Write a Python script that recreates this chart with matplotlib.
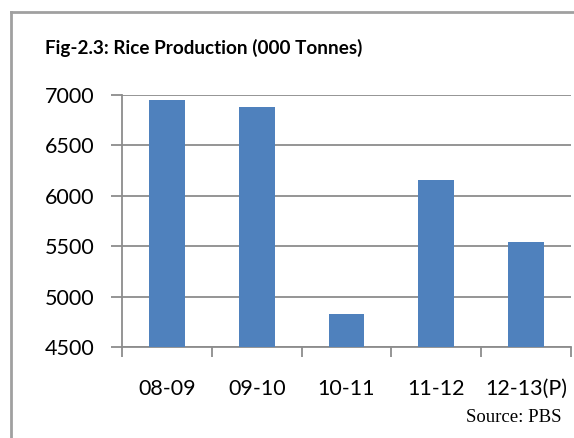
import matplotlib
matplotlib.use('Agg')
import matplotlib.pyplot as plt
from matplotlib.lines import Line2D

# Rice production, thousand tonnes
years = ['08-09', '09-10', '10-11', '11-12', '12-13(P)']
production = [6952, 6883, 4823, 6160, 5541]
y_ticks = [4500, 5000, 5500, 6000, 6500, 7000]

bar_color = '#4F81BD'
axis_gray = '#8C8C8C'

plt.rcParams['font.family'] = ['Lato', 'DejaVu Sans']

fig = plt.figure(figsize=(5.74, 4.38), dpi=100)
ax = fig.add_axes([122 / 574, 1 - 347 / 438, 449 / 574, 252 / 438])

x = list(range(len(years)))
ax.bar(x, production, width=0.4, color=bar_color, zorder=3)

ax.set_ylim(4500, 7000)
ax.set_xlim(-0.5, len(years) - 0.5)
ax.set_yticks(y_ticks)
ax.set_yticklabels([str(v) for v in y_ticks], fontsize=15.5)
ax.yaxis.grid(True, color=axis_gray, linewidth=1.3, zorder=0)

# labels in the middle of each category, tick marks on the boundaries
ax.set_xticks(x)
ax.set_xticklabels(years, fontsize=15.5)
ax.tick_params(axis='x', which='major', length=0, pad=23)
ax.set_xticks([i - 0.5 for i in range(len(years) + 1)], minor=True)
ax.tick_params(axis='x', which='minor', length=7, width=1.3, color=axis_gray)
ax.tick_params(axis='y', length=8, width=1.3, color=axis_gray, pad=12)

for side in ['top', 'right']:
    ax.spines[side].set_visible(False)
for side in ['left', 'bottom']:
    ax.spines[side].set_color(axis_gray)
    ax.spines[side].set_linewidth(1.3)

fig.text(45 / 574, 1 - 48 / 438, 'Fig-2.3: Rice Production (000 Tonnes)',
         fontsize=13.6, fontweight='bold', va='center', ha='left')
fig.text(561 / 574, 1 - 417 / 438, 'Source: PBS', fontsize=13.5,
         family='Liberation Serif', va='center', ha='right')

# frame lines at the left and top of the figure
fig.add_artist(Line2D([11 / 574, 11 / 574], [0, 1 - 12 / 438],
                      color='#A0A0A0', linewidth=2, transform=fig.transFigure))
fig.add_artist(Line2D([11 / 574, 1], [1 - 12 / 438, 1 - 12 / 438],
                      color='#A0A0A0', linewidth=2, transform=fig.transFigure))

fig.savefig('out.png', dpi=100)
